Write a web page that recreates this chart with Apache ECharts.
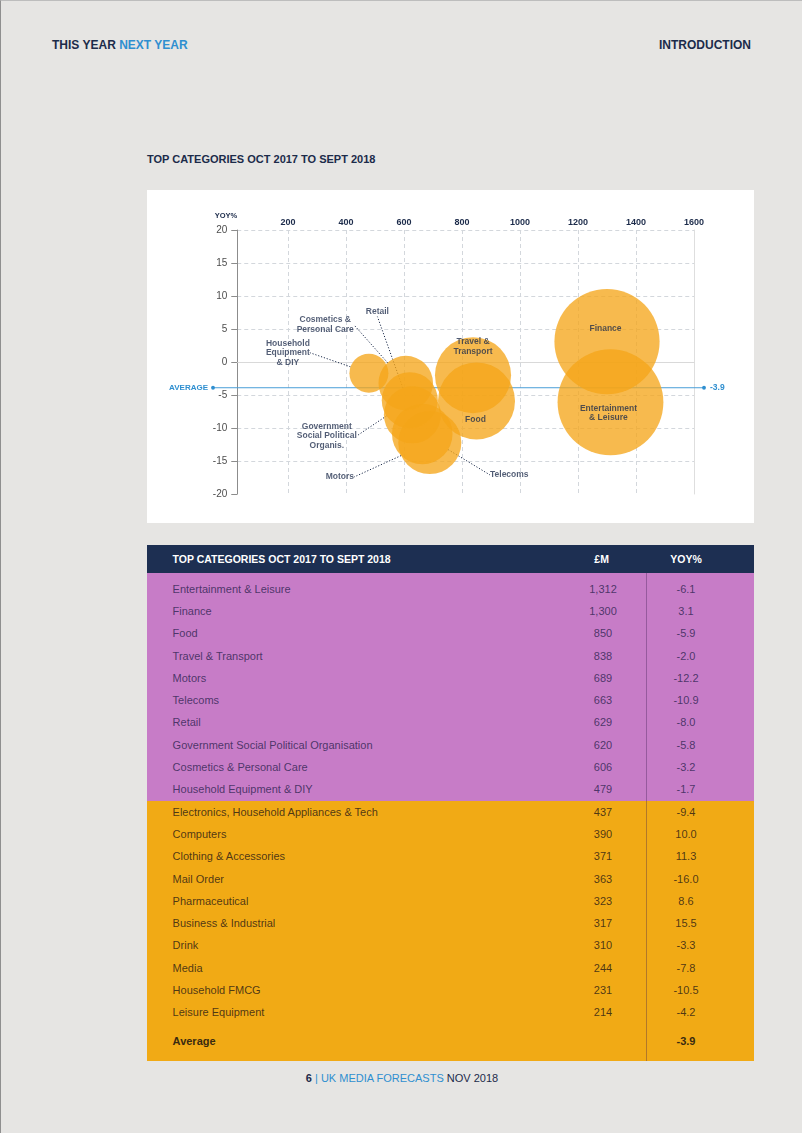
<!DOCTYPE html>
<html>
<head>
<meta charset="utf-8">
<script src="https://cdn.jsdelivr.net/npm/echarts@6/dist/echarts.min.js"></script>
<style>
  html, body { margin: 0; padding: 0; }
  body { width: 802px; height: 1133px; overflow: hidden; }
  #page { position: relative; width: 802px; height: 1133px; background: #e6e5e3; box-sizing: border-box; border-left: 1px solid #8f8f8f; border-top: 1px solid #bdbdbd;
          font-family: "Liberation Sans", Arial, Helvetica, sans-serif; color: #1c2b4a; }
  .abs { position: absolute; white-space: nowrap; }
  .navy { color: #1c2b4a; }
  .blue { color: #2f8fd0; }
  #hdrLeft { left: 51px; top: 37px; font-size: 12px; font-weight: bold; }
  #hdrRight { right: 51px; top: 37px; font-size: 12px; font-weight: bold; }
  #title { left: 146px; top: 152px; font-size: 11px; font-weight: bold; }
  #chart { position: absolute; left: 146px; top: 189px; width: 607px; height: 333px; background: #ffffff; }
  #table { position: absolute; left: 146px; top: 544px; width: 607px; height: 516px; }
  #table .band { position: absolute; left: 0; width: 607px; }
  #table .cell { position: absolute; height: 22px; line-height: 22px; font-size: 11px; white-space: nowrap; }
  #footer { left: 0; width: 802px; top: 1071px; text-align: center; font-size: 11px; }
</style>
</head>
<body>
<div id="page">
  <div id="hdrLeft" class="abs"><span class="navy">THIS YEAR</span> <span class="blue">NEXT YEAR</span></div>
  <div id="hdrRight" class="abs navy">INTRODUCTION</div>
  <div id="title" class="abs">TOP CATEGORIES OCT 2017 TO SEPT 2018</div>
  <div id="chart"></div>
  <div id="table"></div>
  <div id="footer" class="abs"><b class="navy">6</b> <span class="blue">| UK MEDIA FORECASTS</span> <span class="navy">NOV 2018</span></div>
</div>
<script>
// table / chart data
var tableTitle = 'TOP CATEGORIES OCT 2017 TO SEPT 2018';
var categories = ['Entertainment & Leisure', 'Finance', 'Food', 'Travel & Transport', 'Motors', 'Telecoms', 'Retail',
    'Government Social Political Organisation', 'Cosmetics & Personal Care', 'Household Equipment & DIY',
    'Electronics, Household Appliances & Tech', 'Computers', 'Clothing & Accessories', 'Mail Order', 'Pharmaceutical',
    'Business & Industrial', 'Drink', 'Media', 'Household FMCG', 'Leisure Equipment'];
var spend = [1312, 1300, 850, 838, 689, 663, 629, 620, 606, 479, 437, 390, 371, 363, 323, 317, 310, 244, 231, 214];
var yoy = [-6.1, 3.1, -5.9, -2.0, -12.2, -10.9, -8.0, -5.8, -3.2, -1.7, -9.4, 10.0, 11.3, -16.0, 8.6, 15.5, -3.3, -7.8, -10.5, -4.2];
var average = -3.9;
var topCount = 10;   // top 10 go in the bubble chart (and the purple band)
var bubbleLabels = ['Entertainment\n& Leisure', 'Finance', 'Food', 'Travel &\nTransport', 'Motors', 'Telecoms', 'Retail',
    'Government\nSocial Political\nOrganis.', 'Cosmetics &\nPersonal Care', 'Household\nEquipment\n& DIY'];
var xTicks = [200, 400, 600, 800, 1000, 1200, 1400, 1600];

// label placement (pixels from bubble centre), and whether a leader line is drawn
var labelShift = [[-2, 11], [-1.5, -13], [-1, 18.5], [0, -28.5], [-90, 34.5], [87, 41], [-35, -103], [-83, 35.6], [-80.5, -58.4], [-81, -20.5]];
var hasLeader = [false, false, false, false, true, true, true, true, true, true];

var NAVY = '#1c2b4a';
var FONT = '"Liberation Sans", Arial, Helvetica, sans-serif';

// ---------- table ----------
function fmt(n) { return n.toLocaleString('en-GB'); }
function fmtPct(n) { return n.toFixed(1); }

function buildTable() {
    var t = document.getElementById('table');
    var html = '';
    var headH = 28, rowH = 22.3, padTop = 4.5;
    var splitY = Math.round(headH + padTop + rowH * topCount);
    html += '<div class="band" style="top:0;height:' + (headH + 1) + 'px;background:#1d2f52"></div>';
    html += '<div class="band" style="top:' + headH + 'px;height:' + (splitY - headH + 1) + 'px;background:#c77cc7"></div>';
    html += '<div class="band" style="top:' + splitY + 'px;height:' + (516 - splitY) + 'px;background:#f1aa15"></div>';
    html += '<div style="position:absolute;left:499px;top:' + headH + 'px;width:1px;height:' + (516 - headH) + 'px;background:rgba(60,30,80,0.35)"></div>';
    var hc = 'color:#ffffff;font-weight:bold;font-size:10.5px;';
    html += '<div class="cell" style="' + hc + 'left:25.6px;top:' + (headH / 2 - 11) + 'px">' + tableTitle + '</div>';
    html += '<div class="cell" style="' + hc + 'left:424.6px;width:60px;text-align:center;top:' + (headH / 2 - 11) + 'px">£M</div>';
    html += '<div class="cell" style="' + hc + 'left:509px;width:60px;text-align:center;top:' + (headH / 2 - 11) + 'px">YOY%</div>';
    for (var i = 0; i < categories.length; i++) {
        var cy = headH + padTop + rowH * i + rowH / 2;
        var col = i < topCount ? 'color:rgba(45,35,80,0.8);' : 'color:rgba(50,35,20,0.85);';
        html += '<div class="cell" style="' + col + 'left:25.6px;top:' + (cy - 11) + 'px">' + categories[i].replace(/&/g, '&amp;') + '</div>';
        html += '<div class="cell" style="' + col + 'left:426px;width:60px;text-align:center;top:' + (cy - 11) + 'px">' + fmt(spend[i]) + '</div>';
        html += '<div class="cell" style="' + col + 'left:509px;width:60px;text-align:center;top:' + (cy - 11) + 'px">' + fmtPct(yoy[i]) + '</div>';
    }
    var ay = 496;
    html += '<div class="cell" style="color:#3a2a10;font-weight:bold;left:25.6px;top:' + (ay - 11) + 'px">Average</div>';
    html += '<div class="cell" style="color:#3a2a10;font-weight:bold;left:509px;width:60px;text-align:center;top:' + (ay - 11) + 'px">' + fmtPct(average) + '</div>';
    t.innerHTML = html;
}
buildTable();

// ---------- bubble chart ----------
var bubbleData = [];
for (var i = 0; i < topCount; i++) {
    bubbleData.push({
        name: categories[i],
        value: [spend[i], yoy[i]],
        labelLine: { show: hasLeader[i] }
    });
}

// diameter grows with the log of spend
function bubbleSize(val) {
    return 39 + 66.3 * Math.log(val[0] / 479);
}

var chart = echarts.init(document.getElementById('chart'));
var option = {
    animation: false,
    grid: { left: 90.25, top: 40, width: 456.75, height: 264 },
    xAxis: [
        {
            type: 'value', position: 'top', min: 25, max: 1600,
            axisLine: { show: false },
            axisTick: { show: false, customValues: xTicks },
            axisLabel: {
                customValues: xTicks, color: NAVY, fontWeight: 'bold', fontSize: 9, fontFamily: FONT, margin: 3,
                formatter: function (v) { return String(v); }
            },
            splitLine: { show: true, showMaxLine: false, lineStyle: { color: '#d3d7dc', type: [4, 3] } }
        },
        {
            type: 'value', position: 'bottom', min: 25, max: 1600,
            axisLine: { show: true, lineStyle: { color: '#d9d9d9' } },
            axisTick: { show: false }, axisLabel: { show: false }, splitLine: { show: false }
        }
    ],
    yAxis: [
        {
            type: 'value', min: -20, max: 20, interval: 5,
            name: 'YOY%', nameLocation: 'end', nameGap: 10,
            nameTextStyle: { color: NAVY, fontWeight: 'bold', fontSize: 7.5, fontFamily: FONT, align: 'right' },
            axisLine: { show: true, lineStyle: { color: '#8c8c8c' } },
            axisTick: { show: true, length: 6, lineStyle: { color: '#8c8c8c' } },
            axisLabel: { color: '#4d4d4d', fontSize: 10, fontFamily: FONT, margin: 10 },
            splitLine: { show: true, showMinLine: false, lineStyle: { color: '#d3d7dc', type: [4, 3] } }
        },
        {
            type: 'value', position: 'right', min: -20, max: 20,
            axisLine: { show: true, lineStyle: { color: '#dedede' } },
            axisTick: { show: false }, axisLabel: { show: false }, splitLine: { show: false }
        }
    ],
    series: [
        {
            type: 'scatter',
            data: bubbleData,
            symbolSize: bubbleSize,
            itemStyle: { color: 'rgb(245,165,25)', opacity: 0.77 },
            emphasis: { disabled: true },
            label: {
                show: true, position: 'inside',
                formatter: function (p) { return bubbleLabels[p.dataIndex]; },
                color: NAVY, fontWeight: 'bold', fontSize: 8.5, lineHeight: 9.5, fontFamily: FONT, align: 'center'
            },
            labelLine: { show: false, lineStyle: { color: NAVY, width: 1, type: [1.2, 1.8] } },
            labelLayout: function (p) {
                var s = labelShift[p.dataIndex];
                return { dx: s[0], dy: s[1] };
            },
            z: 3
        }
    ]
};
chart.setOption(option);

// average line, reaching past the plot on both sides
var avgY = chart.convertToPixel({ yAxisIndex: 0 }, average);
var lineLeft = 66, lineRight = 557;
chart.setOption({
    graphic: [
        { type: 'line', z: 1, shape: { x1: lineLeft, y1: avgY, x2: lineRight, y2: avgY }, style: { stroke: '#4a9fd8', lineWidth: 1 } },
        { type: 'circle', z: 1, shape: { cx: lineLeft, cy: avgY, r: 1.9 }, style: { fill: '#2f8fd0' } },
        { type: 'circle', z: 1, shape: { cx: lineRight, cy: avgY, r: 1.9 }, style: { fill: '#2f8fd0' } },
        { type: 'text', z: 1, x: lineLeft - 5, y: avgY, style: { text: 'AVERAGE', fill: '#2f8fd0', font: 'bold 8px ' + FONT, textAlign: 'right', textVerticalAlign: 'middle' } },
        { type: 'text', z: 1, x: lineRight + 6, y: avgY, style: { text: fmtPct(average), fill: '#2f8fd0', font: 'bold 8.5px ' + FONT, textAlign: 'left', textVerticalAlign: 'middle' } }
    ]
});
</script>
</body>
</html>
